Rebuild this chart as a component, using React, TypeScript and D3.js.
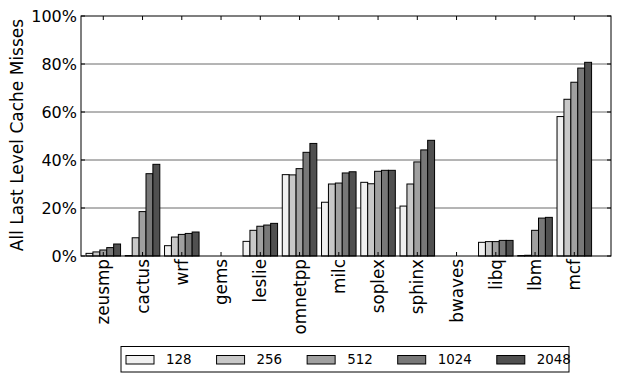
import * as d3 from 'd3';

const benchmarks = ['zeusmp', 'cactus', 'wrf', 'gems', 'leslie', 'omnetpp', 'milc', 'soplex', 'sphinx', 'bwaves', 'libq', 'lbm', 'mcf'];
const sizes = ['128', '256', '512', '1024', '2048'];

// percent of all LLC misses, one array per size
const s128 = [1.1, 0.2, 4.3, 0, 6.1, 33.9, 22.4, 30.7, 20.8, 0, 5.7, 0.2, 58.1];
const s256 = [1.7, 7.6, 7.9, 0, 10.7, 33.8, 30.0, 30.1, 30.0, 0, 6.0, 0.3, 65.3];
const s512 = [2.5, 18.5, 9.0, 0, 12.4, 36.4, 30.4, 35.3, 39.2, 0, 6.0, 10.7, 72.4];
const s1024 = [3.5, 34.3, 9.4, 0, 12.9, 43.2, 34.6, 35.7, 44.2, 0, 6.5, 15.8, 78.3];
const s2048 = [5.0, 38.2, 10.0, 0, 13.6, 46.9, 35.1, 35.7, 48.2, 0, 6.5, 16.1, 80.7];
const series = [s128, s256, s512, s1024, s2048];

const yTicks = [0, 20, 40, 60, 80, 100];
const fills = ['#f0f0f0', '#c8c8c8', '#a0a0a0', '#787878', '#505050'];

const W = 619;
const H = 381;
const left = 81;
const right = 611;
const top = 16;
const bottom = 256;
const font = "'DejaVu Sans', sans-serif";

export default function App() {
  const x = d3.scaleLinear().domain([-0.568, 12.935]).range([left, right]);
  const y = d3.scaleLinear().domain([0, 100]).range([bottom, top]);
  const bw = x(0.176) - x(0);

  // legend layout: swatch, gap, label, gap
  let lx = 126;
  const legendItems = sizes.map((s, j) => {
    const item = { s, j, x: lx };
    lx += 40 + s.length * 13.4 * 0.636 + 25;
    return item;
  });

  return (
    <svg width={W} height={H} style={{ position: 'absolute', left: 0, top: 0 }} fontFamily={font}>
      <rect width={W} height={H} fill="#fff" />
      {/* grid */}
      {yTicks.slice(1, -1).map((t) => (
        <line key={t} x1={left} x2={right} y1={y(t)} y2={y(t)} stroke="#444" strokeWidth={0.8} />
      ))}
      {/* bars */}
      {series.map((vals, j) =>
        vals.map((v, i) =>
          v > 0 ? (
            <rect
              key={`${j}-${i}`}
              x={x(i) - 2.5 * bw + j * bw}
              y={y(v)}
              width={bw}
              height={y(0) - y(v)}
              fill={fills[j]}
              stroke="#000"
              strokeWidth={1}
            />
          ) : null
        )
      )}
      {/* frame */}
      <rect x={left} y={top} width={right - left} height={bottom - top} fill="none" stroke="#000" strokeWidth={1} />
      {/* y ticks */}
      {yTicks.map((t) => (
        <g key={t}>
          <line x1={left} x2={left + 4} y1={y(t)} y2={y(t)} stroke="#000" />
          <line x1={right - 4} x2={right} y1={y(t)} y2={y(t)} stroke="#000" />
          <text x={77} y={y(t)} dy="0.36em" textAnchor="end" fontSize={16}>
            {t}%
          </text>
        </g>
      ))}
      {/* x ticks */}
      {benchmarks.map((b, i) => (
        <g key={b}>
          <line x1={x(i)} x2={x(i)} y1={bottom} y2={bottom - 4} stroke="#000" />
          <line x1={x(i)} x2={x(i)} y1={top} y2={top + 4} stroke="#000" />
          <text
            transform={`translate(${x(i)},${bottom + 3}) rotate(-90)`}
            textAnchor="end"
            dy="0.36em"
            fontSize={16.8}
          >
            {b}
          </text>
        </g>
      ))}
      <text transform={`translate(17,135) rotate(-90)`} textAnchor="middle" dy="0.36em" fontSize={17}>
        All Last Level Cache Misses
      </text>
      {/* legend */}
      <rect x={121} y={346.5} width={448} height={25.5} fill="#fff" stroke="#000" strokeWidth={1} />
      {legendItems.map((it) => (
        <g key={it.s}>
          <rect x={it.x} y={355.5} width={28} height={8.5} fill={fills[it.j]} stroke="#000" />
          <text x={it.x + 40} y={359.5} dy="0.36em" fontSize={13.4}>
            {it.s}
          </text>
        </g>
      ))}
    </svg>
  );
}
